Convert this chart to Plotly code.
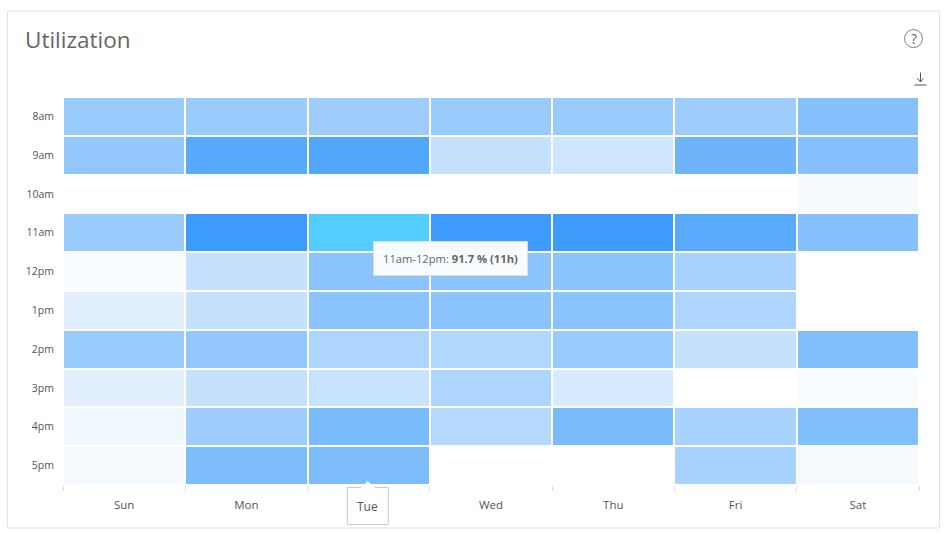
import plotly.graph_objects as go

days = ["Sun", "Mon", "Tue", "Wed", "Thu", "Fri", "Sat"]
hours = ["8am", "9am", "10am", "11am", "12pm", "1pm", "2pm", "3pm", "4pm", "5pm"]
utilization = [
    [52, 52, 50, 52, 52, 50, 62],
    [55, 86, 88, 30, 25, 75, 62],
    [0, 0, 0, 0, 0, 0, 5],
    [52, 100, None, 100, 100, 85, 62],
    [3, 30, 60, 60, 60, 45, 0],
    [15, 30, 60, 60, 60, 42, 0],
    [52, 55, 42, 40, 52, 30, 65],
    [15, 30, 28, 42, 20, 0, 3],
    [8, 50, 68, 38, 68, 45, 65],
    [5, 66, 66, 0, 0, 45, 5],
]
selected_day = "Tue"
selected_hour = "11am"
selected_value = 91.7
tooltip_text = "11am-12pm: <b>91.7 % (11h)</b>"

W, H = 948, 536
L, R, T, B = 63, 919.5, 96.5, 485
FONT = "Open Sans"
px = lambda v: (v - L) / (R - L)
py = lambda v: (B - v) / (B - T)

selected_grid = [
    [selected_value if (d == selected_day and h == selected_hour) else None for d in days]
    for h in hours
]

fig = go.Figure()
fig.add_trace(go.Heatmap(
    z=utilization, x=days, y=hours, zmin=0, zmax=100, xgap=2, ygap=2,
    colorscale=[[0, "#ffffff"], [1, "#3c9bfb"]], showscale=False, hoverongaps=False,
))
fig.add_trace(go.Heatmap(
    z=selected_grid, x=days, y=hours, zmin=0, zmax=100, xgap=2, ygap=2,
    colorscale=[[0, "#55ccff"], [1, "#55ccff"]], showscale=False, hoverongaps=False,
))

shapes = [
    dict(type="rect", xref="paper", yref="paper", x0=px(7.5), x1=px(940), y0=py(10.5), y1=py(528),
         line=dict(color="#e2e2e2", width=1), fillcolor="rgba(0,0,0,0)", layer="below"),
    dict(type="circle", xref="paper", yref="paper", x0=px(905), x1=px(923), y0=py(29), y1=py(47),
         line=dict(color="#808080", width=1)),
    dict(type="line", xref="paper", yref="paper", x0=px(915), x1=px(927), y0=py(84.5), y1=py(84.5),
         line=dict(color="#555555", width=1)),
    dict(type="line", xref="paper", yref="paper", x0=px(921), x1=px(921), y0=py(72), y1=py(81),
         line=dict(color="#555555", width=1)),
    dict(type="path", xref="paper", yref="paper",
         path=f"M {px(918)} {py(78)} L {px(921)} {py(81.5)} L {px(924)} {py(78)}",
         line=dict(color="#555555", width=1)),
    dict(type="rect", xref="paper", yref="paper", x0=px(347.5), x1=px(388.5), y0=py(487.5), y1=py(524.5),
         line=dict(color="#c8c8c8", width=1), fillcolor="#ffffff"),
    dict(type="path", xref="paper", yref="paper",
         path=f"M {px(361)} {py(488)} L {px(368)} {py(481.5)} L {px(375)} {py(488)} Z",
         line=dict(color="#ffffff", width=1), fillcolor="#ffffff"),
]

annotations = [
    dict(text="Utilization", xref="paper", yref="paper", x=px(22.5), y=py(39), xanchor="left", yanchor="middle",
         showarrow=False, font=dict(family=FONT, size=22.5, color="#666666")),
    dict(text="?", xref="paper", yref="paper", x=px(914), y=py(38), xanchor="center", yanchor="middle",
         showarrow=False, font=dict(family=FONT, size=14, color="#666666")),
    dict(text=selected_day, xref="paper", yref="paper", x=px(368), y=py(507), xanchor="center", yanchor="middle",
         showarrow=False, font=dict(family=FONT, size=12, color="#555555")),
    dict(text=tooltip_text, xref="paper", yref="paper", x=px(451), y=py(258), xanchor="center", yanchor="middle",
         showarrow=False, font=dict(family=FONT, size=11.2, color="#666666"),
         bgcolor="rgba(255,255,255,0.95)", bordercolor="#dddddd", borderwidth=1, borderpad=9),
]

fig.update_layout(
    width=W, height=H, autosize=False,
    margin=dict(l=L, r=W - R, t=T, b=H - B),
    paper_bgcolor="#ffffff", plot_bgcolor="#ffffff",
    font=dict(family=FONT, size=11, color="#555555"),
    shapes=shapes, annotations=annotations,
    xaxis=dict(type="category", categoryorder="array", categoryarray=days, tickmode="array", tickvals=days,
               ticktext=[d if d != selected_day else "" for d in days],
               tickson="boundaries", ticks="outside", ticklen=5, tickcolor="#dddddd", showgrid=False,
               zeroline=False, showline=False, ticklabelstandoff=11, tickfont=dict(size=11.5, color="#555555")),
    yaxis=dict(type="category", categoryorder="array", categoryarray=hours, autorange="reversed",
               ticks="", showgrid=False, zeroline=False, showline=False, ticklabelstandoff=8,
               tickfont=dict(size=10.5, color="#555555")),
)
fig.write_html("out.html", config=dict(displayModeBar=False),
               post_script="document.body.style.margin='0';")
